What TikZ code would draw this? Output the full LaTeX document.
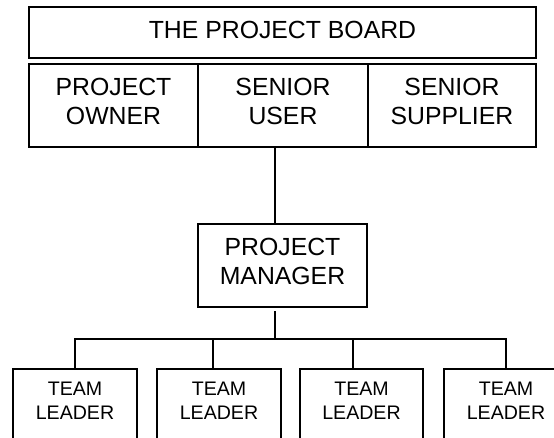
\documentclass[tikz,border=0pt]{standalone}
\usepackage{fontspec}
\setmainfont{Liberation Sans}
\begin{document}
\begin{tikzpicture}[x=1pt,y=-1pt,
  box/.style={draw=black,line width=1.9pt,rectangle,inner sep=0pt,fill=none},
  bigtxt/.style={inner sep=0pt,align=center,font=\fontsize{24.8}{29}\selectfont},
  smalltxt/.style={inner sep=0pt,align=center,font=\fontsize{19.6}{23.7}\selectfont},
  conn/.style={draw=black,line width=1.9pt}]
\clip (0,0) rectangle (554,437);
\fill[white] (0,0) rectangle (554,437);
% board
\node[box,minimum width=507pt,minimum height=51pt] (board) at (282.5,32.5) {};
\node[bigtxt] (boardt) at (282.5,29.5) {THE PROJECT BOARD};
% second row
\node[box,minimum width=169pt,minimum height=83pt] (owner) at (113.5,105.5) {};
\node[box,minimum width=170pt,minimum height=83pt] (suser) at (283,105.5) {};
\node[box,minimum width=168pt,minimum height=83pt] (ssupp) at (452,105.5) {};
\node[bigtxt] (ownert) at (113.5,101.5) {PROJECT\\OWNER};
\node[bigtxt] (usert) at (283,101.5) {SENIOR\\USER};
\node[bigtxt] (suppt) at (452,101.5) {SENIOR\\SUPPLIER};
% project manager
\node[box,minimum width=169pt,minimum height=83pt] (pm) at (282.5,265.5) {};
\node[bigtxt] (pmt) at (282.5,261) {PROJECT\\MANAGER};
% team leaders
\node[box,minimum width=124pt,minimum height=100pt] (t1) at (75,419) {};
\node[box,minimum width=124pt,minimum height=100pt] (t2) at (219,419) {};
\node[box,minimum width=123pt,minimum height=100pt] (t3) at (361.5,419) {};
\node[box,minimum width=124pt,minimum height=100pt] (t4) at (506,419) {};
\node[smalltxt] (t1t) at (75,400.5) {TEAM\\LEADER};
\node[smalltxt] (t2t) at (219,400.5) {TEAM\\LEADER};
\node[smalltxt] (t3t) at (361.5,400.5) {TEAM\\LEADER};
\node[smalltxt] (t4t) at (506,400.5) {TEAM\\LEADER};
% connectors
\coordinate (ctop) at (275,147);
\draw[conn] (ctop) -- (ctop |- pm.north);
\coordinate (cbot) at (275,311);
\coordinate (bus) at (275,339);
\coordinate (d1) at (75,339);
\coordinate (d2) at (213,339);
\coordinate (d3) at (353,339);
\coordinate (d4) at (506,339);
\draw[conn] (cbot) -- (bus);
\draw[conn] (d1 |- t1.north) -- (d1) -- (d4) -- (d4 |- t4.north);
\draw[conn] (d2) -- (d2 |- t2.north);
\draw[conn] (d3) -- (d3 |- t3.north);
\end{tikzpicture}
\end{document}
